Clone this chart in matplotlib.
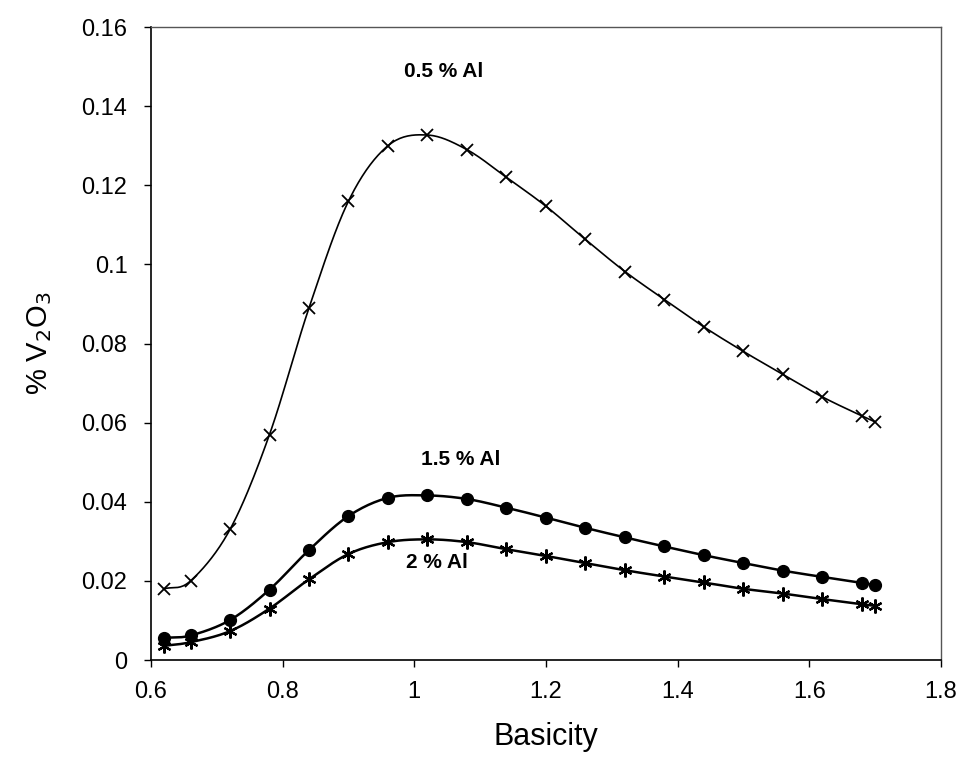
import numpy as np
import matplotlib.pyplot as plt

plt.rcParams['font.family'] = ['Liberation Sans', 'DejaVu Sans']

# Data
basicity = [0.62, 0.66, 0.72, 0.78, 0.84, 0.90, 0.96, 1.02, 1.08, 1.14,
            1.20, 1.26, 1.32, 1.38, 1.44, 1.50, 1.56, 1.62, 1.68, 1.70]
al_05 = [0.018, 0.020, 0.033, 0.057, 0.089, 0.116, 0.130, 0.1327, 0.129, 0.122,
         0.1147, 0.1063, 0.0982, 0.0911, 0.0842, 0.0780, 0.0722, 0.0665, 0.0617, 0.0602]
al_15 = [0.0056, 0.0062, 0.0101, 0.0178, 0.0278, 0.0364, 0.0410, 0.0416, 0.0407, 0.0385,
         0.0360, 0.0334, 0.0310, 0.0287, 0.0265, 0.0245, 0.0226, 0.0210, 0.0195, 0.0189]
al_2 = [0.0036, 0.0045, 0.0073, 0.0130, 0.0204, 0.0268, 0.0298, 0.0305, 0.0298, 0.0280,
        0.0263, 0.0245, 0.0227, 0.0211, 0.0196, 0.0180, 0.0168, 0.0154, 0.0141, 0.0137]
labels = ['0.5 % Al', '1.5 % Al', '2 % Al']


def smooth(x, y, n=20):
    # Catmull-Rom curve through the points, like a spreadsheet "smoothed line"
    x = np.asarray(x, float)
    y = np.asarray(y, float)
    px = np.concatenate([[2 * x[0] - x[1]], x, [2 * x[-1] - x[-2]]])
    py = np.concatenate([[2 * y[0] - y[1]], y, [2 * y[-1] - y[-2]]])
    t = np.linspace(0, 1, n, endpoint=False)
    xs, ys = [], []
    for i in range(1, len(px) - 2):
        for p, out in ((px, xs), (py, ys)):
            p0, p1, p2, p3 = p[i - 1], p[i], p[i + 1], p[i + 2]
            out.extend(0.5 * (2 * p1 + (-p0 + p2) * t
                              + (2 * p0 - 5 * p1 + 4 * p2 - p3) * t ** 2
                              + (-p0 + 3 * p1 - 3 * p2 + p3) * t ** 3))
    xs.append(x[-1])
    ys.append(y[-1])
    return xs, ys


fig = plt.figure(figsize=(9.65, 7.59), dpi=100)
ax = fig.add_axes([0.1565, 0.1304, 0.8185, 0.834])

ax.plot(*smooth(basicity, al_05), color='black', lw=1.2)
ax.plot(basicity, al_05, ls='none', marker='x', ms=9, mew=1.3, color='black')

ax.plot(*smooth(basicity, al_15), color='black', lw=1.8)
ax.plot(basicity, al_15, ls='none', marker='o', ms=8.5, color='black')

ax.plot(*smooth(basicity, al_2), color='black', lw=1.8)
ax.plot(basicity, al_2, ls='none', marker=(6, 2, 0), ms=10, mew=1.6, color='black')

ax.text(1.045, 0.1488, labels[0], ha='center', va='center', fontsize=15, fontweight='bold')
ax.text(1.07, 0.0508, labels[1], ha='center', va='center', fontsize=15, fontweight='bold')
ax.text(1.035, 0.0246, labels[2], ha='center', va='center', fontsize=15, fontweight='bold')

ax.set_xlim(0.6, 1.8)
ax.set_ylim(0, 0.16)
ax.set_xticks([0.6, 0.8, 1.0, 1.2, 1.4, 1.6, 1.8])
ax.set_xticklabels(['0.6', '0.8', '1', '1.2', '1.4', '1.6', '1.8'])
ax.set_yticks([0, 0.02, 0.04, 0.06, 0.08, 0.1, 0.12, 0.14, 0.16])
ax.set_yticklabels(['0', '0.02', '0.04', '0.06', '0.08', '0.1', '0.12', '0.14', '0.16'])
ax.tick_params(direction='out', length=5, width=1, labelsize=17)
ax.tick_params(axis='y', pad=12)
ax.tick_params(axis='x', pad=10)

for side in ['left', 'bottom']:
    ax.spines[side].set_color('black')
    ax.spines[side].set_linewidth(1.2)
for side in ['top', 'right']:
    ax.spines[side].set_color('#555555')
    ax.spines[side].set_linewidth(1.0)

ax.set_xlabel('Basicity', fontsize=22, labelpad=14)
ax.set_ylabel('% V$_2$O$_3$', fontsize=21, labelpad=20)

fig.savefig('out.png', dpi=100)
